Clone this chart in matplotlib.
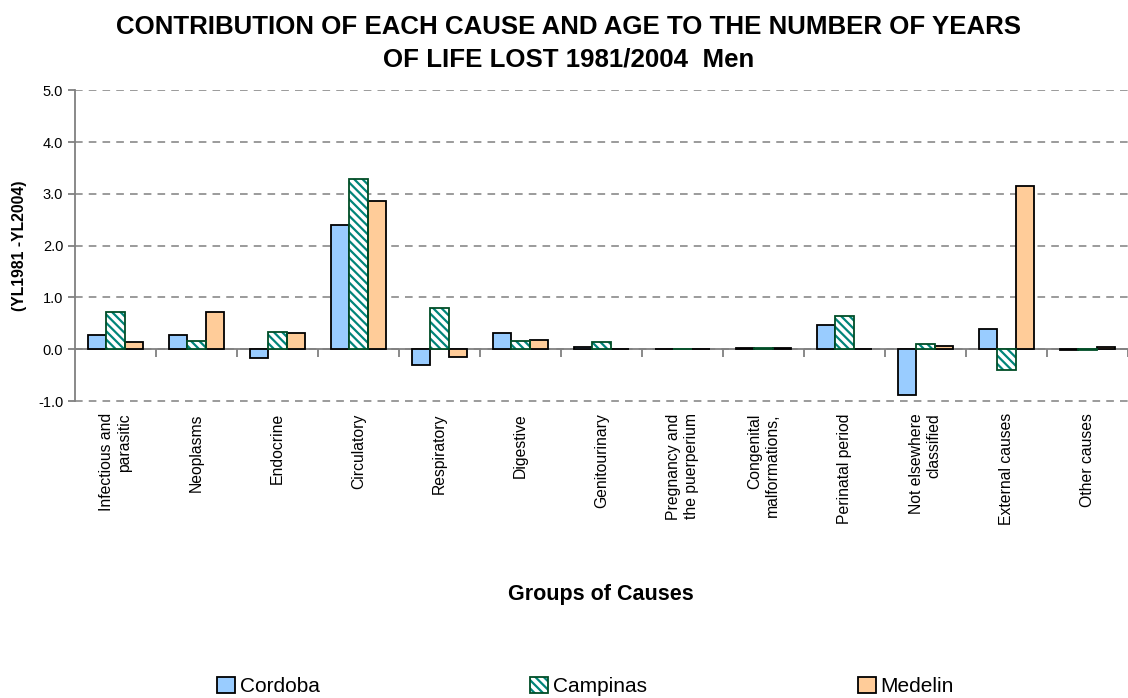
import numpy as np
import matplotlib.pyplot as plt

plt.rcParams['font.family'] = ['Liberation Sans', 'DejaVu Sans']
plt.rcParams['hatch.linewidth'] = 1.6

causes = ['Infectious and\nparasitic', 'Neoplasms', 'Endocrine', 'Circulatory',
          'Respiratory', 'Digestive', 'Genitourinary', 'Pregnancy and\nthe puerperium',
          'Congenital\nmalformations,', 'Perinatal period', 'Not elsewhere\nclassified',
          'External causes', 'Other causes']
cordoba = [0.28, 0.28, -0.17, 2.40, -0.30, 0.32, 0.05, 0.0, 0.02, 0.47, -0.89, 0.39, -0.02]
campinas = [0.72, 0.15, 0.34, 3.28, 0.79, 0.16, 0.13, 0.0, 0.03, 0.65, 0.10, -0.40, -0.01]
medelin = [0.13, 0.72, 0.32, 2.87, -0.15, 0.17, 0.0, 0.0, 0.02, 0.0, 0.07, 3.15, 0.05]
yticks = [-1.0, 0.0, 1.0, 2.0, 3.0, 4.0, 5.0]

fig = plt.figure(figsize=(11.28, 6.98), dpi=100)
ax = fig.add_axes([0.0665, 0.424, 0.9335, 0.447])

x = np.arange(len(causes))
w = 0.225

b1 = ax.bar(x - w, cordoba, w, color='#99CCFF', edgecolor='black', linewidth=1.3, zorder=3)
b2h = ax.bar(x, campinas, w, color='white', edgecolor='#00857a', hatch='\\\\\\\\', linewidth=0, zorder=3)
b2 = ax.bar(x, campinas, w, fill=False, edgecolor='#004d26', linewidth=1.3, zorder=4)
b3 = ax.bar(x + w, medelin, w, color='#FFCC99', edgecolor='black', linewidth=1.3, zorder=3)

ax.set_ylim(-1.02, 5.005)
ax.set_xlim(-0.5, len(causes) - 0.5)
ax.set_yticks(yticks)
ax.set_yticklabels(['%.1f' % t for t in yticks], fontsize=10.5)
ax.yaxis.grid(True, linestyle=(0, (5, 4)), color='#808080', linewidth=1.1, zorder=0)
for s in ['top', 'right', 'bottom']:
    ax.spines[s].set_visible(False)
ax.spines['left'].set_color('#808080')
ax.spines['left'].set_linewidth(1.3)
ax.spines['left'].set_bounds(-1, 5)
ax.tick_params(axis='y', length=5, color='#808080', width=1.3)

# zero line with ticks between groups
ax.axhline(0, color='#808080', linewidth=1.3, zorder=2)
ax.plot(np.arange(len(causes)) + 0.5, np.zeros(len(causes)), linestyle='none',
        marker=3, markersize=6, color='#808080', mew=1.3, zorder=2)

ax.set_xticks(x)
ax.set_xticklabels(causes, rotation=90, fontsize=11.3, va='top', ha='center',
                   multialignment='right')
ax.tick_params(axis='x', length=0, pad=8)

ax.set_ylabel('(YL1981 -YL2004)', fontsize=11.3, fontweight='bold', labelpad=8)
fig.text(0.533, 0.148, 'Groups of Causes', fontsize=15.5, fontweight='bold',
         ha='center', va='center')
fig.suptitle('CONTRIBUTION OF EACH CAUSE AND AGE TO THE NUMBER OF YEARS\nOF LIFE LOST 1981/2004  Men',
             fontsize=18.6, fontweight='bold', x=0.504, y=0.978, va='top', linespacing=1.45)

leg = fig.legend([b1, (b2h, b2), b3], ['Cordoba', 'Campinas', 'Medelin'],
                 loc='lower left', bbox_to_anchor=(0.176, -0.024), ncol=3, frameon=False,
                 fontsize=15, handlelength=0.85, handleheight=0.8, handletextpad=0.25,
                 columnspacing=10.1)

fig.savefig('out.png', dpi=100)
